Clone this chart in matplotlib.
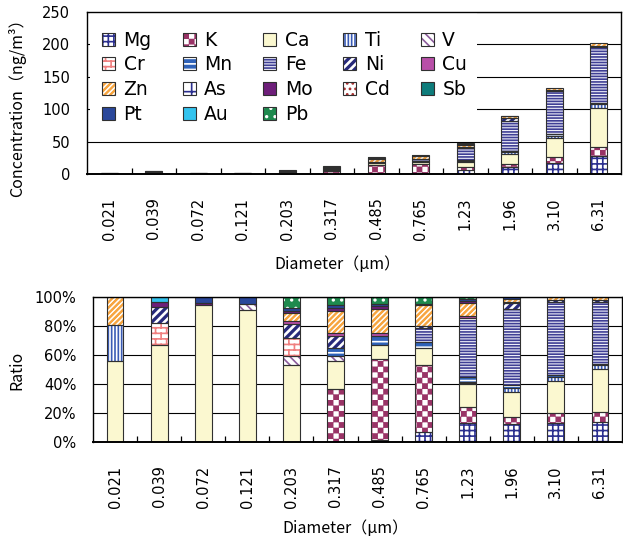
import warnings
import numpy as np
import matplotlib
matplotlib.use('Agg')
import matplotlib.pyplot as plt
import matplotlib.hatch as mhatch
from matplotlib.path import Path
from matplotlib.patches import Patch, Rectangle
from matplotlib.legend_handler import HandlerTuple

warnings.filterwarnings('ignore')
plt.rcParams['hatch.linewidth'] = 1.2

# ── data ───────────────────────────────────────────────────────────────
sizes = ['0.021', '0.039', '0.072', '0.121', '0.203', '0.317',
         '0.485', '0.765', '1.23', '1.96', '3.10', '6.31']
total = [2.0, 4.0, 2.0, 2.0, 5.5, 12.0, 25.5, 29.3, 47.3, 90.0, 133.0, 202.0]

# composition (%) of each size bin
mg = [0, 0, 0, 0, 0, 0, 1.5, 7.1, 13.3, 12.2, 12.9, 13.6]
k  = [0, 0, 0, 0, 0, 36.3, 55.5, 46.0, 10.6, 5.3, 6.9, 7.3]
ca = [56.0, 67.0, 94.5, 90.8, 53.3, 19.6, 9.9, 12.0, 15.9, 16.8, 22.5, 29.2]
ti = [24.5, 0, 0, 0, 0, 0, 0, 0, 1.0, 2.7, 2.3, 3.0]
v  = [0, 0, 0, 4.4, 5.8, 3.4, 0, 0, 0, 0, 0, 0]
cr = [0, 15.0, 0, 0, 12.8, 0, 0, 0, 0.8, 0, 0, 0]
mn = [0, 0, 0, 0, 0, 5.3, 6.5, 4.0, 3.0, 2.3, 1.6, 1.0]
fe = [0, 0, 0, 0, 0, 0, 0, 9.2, 41.0, 52.2, 50.5, 42.7]
ni = [0, 11.0, 0, 0, 9.2, 8.5, 0, 1.5, 0, 4.1, 1.2, 1.2]
cu = [0, 0, 0, 0, 2.3, 1.8, 1.5, 0, 1.5, 0.8, 0, 0]
zn = [19.5, 0, 0, 0, 5.3, 15.7, 17.1, 14.6, 9.0, 2.2, 2.1, 2.0]
as_ = [0] * 12
mo = [0, 3.5, 1.7, 0, 1.5, 2.0, 1.5, 0, 1.0, 0, 0, 0]
cd = [0] * 12
sb = [0] * 12
pt = [0, 0, 3.8, 4.8, 2.0, 1.9, 1.5, 1.1, 1.4, 1.4, 0, 0]
au = [0, 3.5, 0, 0, 0, 0, 0, 0, 0, 0, 0, 0]
pb = [0, 0, 0, 0, 7.8, 5.5, 5.0, 4.5, 1.5, 0, 0, 0]

elements = ['Mg', 'K', 'Ca', 'Ti', 'V', 'Cr', 'Mn', 'Fe', 'Ni', 'Cu',
            'Zn', 'As', 'Mo', 'Cd', 'Sb', 'Pt', 'Au', 'Pb']
ratios = [mg, k, ca, ti, v, cr, mn, fe, ni, cu, zn, as_, mo, cd, sb, pt, au, pb]

# (face, hatch colour, hatch)
STYLE = {
    'Mg': ('white',   '#2b2f8f', '+++'),
    'K':  ('white',   '#993366', 'c'),
    'Ca': ('#fbf8d0', None,      None),
    'Ti': ('white',   '#3a5bb5', '|||||'),
    'V':  ('white',   '#8c5c9c', '\\\\\\\\'),
    'Cr': ('white',   '#f08080', 'bbb'),
    'Mn': ('#2f62b8', 'white',   '---'),
    'Fe': ('#eeeef8', '#3f3f95', '------'),
    'Ni': ('white',   '#27297a', 'w'),
    'Cu': ('#b84fa8', None,      None),
    'Zn': ('white',   '#f7a540', 'z'),
    'As': ('white',   '#2b2f8f', '+'),
    'Mo': ('#6e1f7a', None,      None),
    'Cd': ('white',   '#a52a2a', '...'),
    'Sb': ('#0e7c7b', None,      None),
    'Pt': ('#2a479a', None,      None),
    'Au': ('#33c3ee', None,      None),
    'Pb': ('#1e8a4e', 'white',   '..'),
}
OUTLINE = '#303030'


# ── extra hatch patterns ────────────────────────────────────────────
# 'c' checkerboard, 'z' / 'w' wide filled diagonals, 'b' brick
def _checker(n, d):
    s = 1.0 / n
    return [[(j * s + d, i * s + d), (j * s + s - d, i * s + d),
             (j * s + s - d, i * s + s - d), (j * s + d, i * s + s - d)]
            for i in range(n) for j in range(n) if (i + j) % 2 == 0]


def _diag(n, w):
    return [[(0, c), (1, 1 + c), (1, 1 + c + w), (0, c + w)]
            for c in np.arange(-n, n + 1) / n]


POLY_CHARS = {
    'c': lambda: _checker(18, 0.007),
    'z': lambda: _diag(18, 0.010),
    'w': lambda: _diag(12, 0.022),
}


class PolyHatch(mhatch.HatchPatternBase):
    def __init__(self, hatch, density):
        self.polys = []
        for ch, fn in POLY_CHARS.items():
            if ch in hatch:
                self.polys += fn()
        self.num_vertices = 5 * len(self.polys)

    def set_vertices_and_codes(self, vertices, codes):
        for m, poly in enumerate(self.polys):
            vertices[5 * m:5 * m + 5] = list(poly) + [poly[0]]
            codes[5 * m:5 * m + 5] = [Path.MOVETO, Path.LINETO, Path.LINETO,
                                      Path.LINETO, Path.CLOSEPOLY]


class BrickHatch(mhatch.HatchPatternBase):
    def __init__(self, hatch, density):
        n = hatch.count('b') * density
        n += n % 2
        self.segs = []
        if n:
            s = 1.0 / n
            for i in range(n + 1):
                self.segs.append(((0, i * s), (1, i * s)))
            for i in range(n):
                for j in range(n // 2 + 1):
                    xx = (2 * j + i % 2) * s
                    if xx <= 1.0:
                        self.segs.append(((xx, i * s), (xx, (i + 1) * s)))
        self.num_vertices = 2 * len(self.segs)

    def set_vertices_and_codes(self, vertices, codes):
        for m, (a, b) in enumerate(self.segs):
            vertices[2 * m:2 * m + 2] = [a, b]
            codes[2 * m:2 * m + 2] = [Path.MOVETO, Path.LINETO]


mhatch._hatch_types.extend([PolyHatch, BrickHatch])

TICK_FONT = 'DejaVu Sans'
LABEL_FONT = ['Noto Sans CJK JP', 'DejaVu Sans']

x = np.arange(len(sizes))
tot = np.array(total)
BAR_W = 0.38


def draw_stack(ax, scale):
    bottom = np.zeros(len(sizes))
    for name, vals in zip(elements, ratios):
        h = np.array(vals, dtype=float) * scale
        m = h > 0
        face, hcol, hatch = STYLE[name]
        if m.any():
            ax.bar(x[m], h[m], bottom=bottom[m], width=BAR_W,
                   color=face, edgecolor=hcol if hcol else face,
                   hatch=hatch, linewidth=0, zorder=2)
            ax.bar(x[m], h[m], bottom=bottom[m], width=BAR_W, fill=False,
                   edgecolor=OUTLINE, linewidth=0.8, zorder=2.1)
        bottom = bottom + h


def style_axis(ax, pad):
    ax.set_xlim(-0.5, len(sizes) - 0.5)
    ax.set_xticks(x)
    ax.set_xticklabels(sizes, rotation=90, fontsize=10.5, family=TICK_FONT)
    ax.set_xticks(np.arange(0.5, len(sizes) - 1, 1), minor=True)
    ax.tick_params(axis='x', which='major', length=0, pad=pad)
    ax.tick_params(axis='x', which='minor', direction='in', length=4,
                   width=0.9, color='black')
    ax.tick_params(axis='y', length=0, pad=12, labelsize=10.5)
    for lab in ax.get_yticklabels():
        lab.set_family(TICK_FONT)
    ax.set_axisbelow(True)
    ax.yaxis.grid(True, color='black', linewidth=0.8)
    for sp in ax.spines.values():
        sp.set_edgecolor('black')
        sp.set_linewidth(1.0)
    ax.spines['bottom'].set_linewidth(1.4)


fig = plt.figure(figsize=(6.23, 5.42), dpi=100, facecolor='white')
W, H = 623.0, 542.0

# ── top: concentration ────────────────────────────────────────────────
ax1 = fig.add_axes([87 / W, 1 - 174 / H, 534 / W, 162 / H])
draw_stack(ax1, tot / 100.0)
ax1.set_ylim(0, 250)
ax1.set_yticks(range(0, 251, 50))
style_axis(ax1, 17)
ax1.add_patch(Rectangle((0.006, 0.28), 0.724, 0.715, transform=ax1.transAxes,
                        facecolor='white', edgecolor='none', zorder=0.8))

handles = {}
for name in elements:
    face, hcol, hatch = STYLE[name]
    p = Patch(facecolor=face, edgecolor=hcol if hcol else face,
              hatch=hatch, linewidth=0)
    handles[name] = (p, Patch(facecolor='none', edgecolor=OUTLINE, linewidth=0.8))

# column-major order so that the legend reads row by row
leg_order = ['Mg', 'Cr', 'Zn', 'Pt', 'K', 'Mn', 'As', 'Au', 'Ca', 'Fe', 'Mo', 'Pb',
             'Ti', 'Ni', 'Cd', 'V', 'Cu', 'Sb']
leg = ax1.legend([handles[n] for n in leg_order], leg_order, ncol=5,
                 loc='upper left', bbox_to_anchor=(0.028, 0.885),
                 frameon=False, borderpad=0, borderaxespad=0,
                 handlelength=0.7, handleheight=0.7, handletextpad=0.45,
                 columnspacing=1.65, labelspacing=0.31,
                 prop={'family': TICK_FONT, 'size': 13.5},
                 handler_map={tuple: HandlerTuple(ndivide=1, pad=0)})
leg.set_zorder(5)

fig.text(17 / W, 1 - 104 / H, 'Concentration（ng/m³）', rotation=90,
         ha='center', va='center', fontsize=11.5, family=LABEL_FONT)
fig.text(337 / W, 1 - 265 / H, 'Diameter（μm）', ha='center', va='center',
         fontsize=11.5, family=LABEL_FONT)

# ── bottom: ratio ─────────────────────────────────────────────────────
ax2 = fig.add_axes([93 / W, 1 - 442 / H, 529 / W, 145 / H])
draw_stack(ax2, np.ones(len(sizes)))
ax2.set_ylim(0, 100)
ax2.set_yticks(range(0, 101, 20))
ax2.set_yticklabels([f'{t}%' for t in range(0, 101, 20)])
style_axis(ax2, 17)

fig.text(17 / W, 1 - 370 / H, 'Ratio', rotation=90, ha='center', va='center',
         fontsize=11.5, family=LABEL_FONT)
fig.text(345 / W, 1 - 529 / H, 'Diameter（μm）', ha='center', va='center',
         fontsize=11.5, family=LABEL_FONT)

fig.savefig('out.png', dpi=100, facecolor='white')
plt.close(fig)
